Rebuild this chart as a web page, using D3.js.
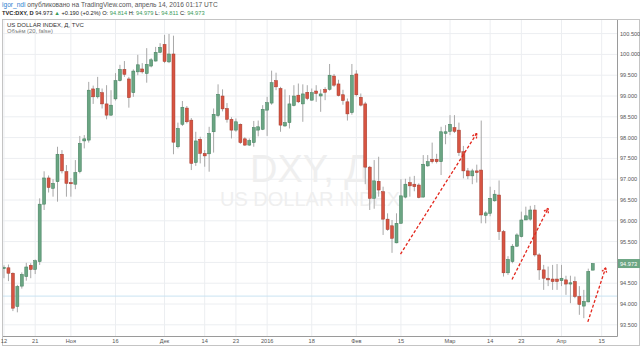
<!DOCTYPE html>
<html>
<head>
<meta charset="utf-8">
<script src="https://cdn.jsdelivr.net/npm/d3@7/dist/d3.min.js"></script>
<style>
  body { margin: 0; background: #fff; }
  svg { display: block; font-family: "Liberation Sans", Arial, sans-serif; }
</style>
</head>
<body>
<svg id="chart" width="640" height="347"></svg>
<script>
/* TVC:DXY daily candles, Oct 2015 – Apr 14 2016 */

const opens = [94.85,94.87,94.74,93.94,94.43,94.66,94.93,94.83,95.02,96.40,97.03,96.78,96.94,97.60,97.18,96.92,96.88,97.18,97.92,97.94,
  99.17,98.98,99.08,98.81,98.54,98.93,99.37,99.64,99.41,99.08,99.58,99.65,99.54,99.72,99.84,100.05,100.24,99.82,100.01,97.78,
  98.32,98.71,98.42,97.40,97.96,97.62,97.61,98.14,98.53,99.00,98.70,98.44,98.18,98.32,97.97,97.82,97.88,98.18,98.20,98.66,
  98.83,99.37,99.18,98.28,98.36,98.77,99.02,98.81,99.09,98.90,99.12,99.00,99.16,99.16,99.48,99.29,99.03,98.86,98.60,99.53,
  98.97,98.81,97.29,96.54,96.95,96.70,96.04,95.88,95.47,95.94,96.57,96.92,96.88,96.86,96.57,97.32,97.48,97.48,97.42,98.10,
  98.15,98.24,98.18,97.66,97.20,97.08,97.20,97.22,96.13,96.18,96.48,96.62,95.74,94.75,95.02,95.39,95.62,96.02,96.04,96.26,
  95.18,94.82,94.62,94.60,94.60,94.56,94.58,94.48,94.54,94.18,93.95,94.05,94.814];
const highs = [94.93,94.95,94.76,94.46,94.76,94.99,94.98,95.07,96.54,97.19,97.09,97.00,97.78,97.70,97.34,97.03,97.46,98.04,98.06,99.34,
  99.25,99.46,99.18,99.26,99.14,99.55,99.75,99.84,99.46,99.64,99.99,99.79,100.15,99.91,100.18,100.27,100.47,100.49,100.45,98.36,
  98.88,98.76,98.47,98.14,98.02,97.70,98.26,98.70,99.28,99.16,98.83,98.49,98.46,98.34,98.01,97.98,98.40,98.41,98.78,98.98,
  99.61,99.56,99.22,99.16,99.02,99.26,99.30,99.28,99.26,99.18,99.26,99.16,99.21,99.77,99.53,99.39,99.15,98.94,99.77,99.62,
  99.06,98.86,97.32,97.46,97.54,96.82,96.18,96.02,96.18,97.00,97.01,97.06,97.08,96.90,97.58,97.58,97.88,97.61,98.26,98.30,
  98.54,98.54,98.36,97.80,97.27,97.25,97.35,98.41,96.23,96.82,96.74,96.97,95.78,95.15,95.44,95.70,96.22,96.34,96.36,96.38,
  95.22,94.94,94.90,94.94,94.96,94.94,94.68,94.68,94.66,94.43,94.34,94.85,94.979];
const lows = [94.62,94.55,93.83,93.80,94.37,94.56,94.62,94.72,94.94,96.26,96.68,96.58,96.46,97.14,96.58,96.58,96.76,97.14,97.74,97.88,
  98.81,98.94,98.70,98.44,98.52,98.89,99.35,99.46,98.72,98.98,99.50,99.54,99.32,99.69,99.83,100.03,99.79,99.79,97.60,97.74,
  98.28,98.34,97.22,97.32,97.38,97.30,97.18,97.64,98.49,98.63,98.36,97.98,98.14,97.85,97.80,97.80,97.78,98.03,98.18,98.04,
  98.79,99.14,98.14,98.26,98.22,98.75,98.83,98.38,98.90,98.89,98.86,98.62,98.90,99.13,99.22,98.99,98.79,98.41,98.55,98.99,
  98.75,96.88,96.26,96.29,96.58,95.66,95.76,95.23,95.46,95.93,96.54,96.58,96.71,96.54,96.56,97.30,97.38,97.38,97.10,97.84,
  98.06,98.11,97.56,97.02,97.00,96.88,96.92,95.94,95.94,96.11,96.46,95.54,94.66,94.70,94.98,95.37,95.60,96.02,96.00,95.14,
  94.58,94.34,94.43,94.34,94.34,94.43,94.22,94.02,94.14,93.74,93.66,94.04,94.811];
const closes = [94.88,94.74,93.90,94.42,94.71,94.89,94.83,95.04,96.40,97.03,96.80,96.90,97.60,97.20,96.90,96.89,97.16,97.86,97.97,99.14,
  98.98,99.18,98.81,98.54,98.78,99.37,99.64,99.52,98.96,99.60,99.75,99.58,99.76,99.87,100.05,100.17,99.83,100.01,97.89,98.22,
  98.73,98.38,97.38,97.92,97.62,97.56,98.10,98.56,99.04,98.69,98.44,98.18,98.38,97.88,97.82,97.93,98.24,98.26,98.68,98.84,
  99.32,99.22,98.30,98.36,98.81,99.00,98.86,99.05,98.94,99.08,99.06,99.05,99.09,99.50,99.26,99.01,98.89,98.57,99.50,99.03,
  98.78,97.29,96.54,96.96,96.74,96.04,95.79,95.58,95.94,96.60,96.88,96.84,96.82,96.56,97.36,97.42,97.42,97.42,98.14,98.14,
  98.32,98.15,97.64,97.20,97.08,97.20,97.16,96.14,96.19,96.54,96.64,95.74,94.75,95.07,95.39,95.66,96.02,96.12,96.26,95.18,
  94.82,94.62,94.58,94.54,94.54,94.62,94.48,94.51,94.18,93.99,94.06,94.783,94.973];

const priceTicks = [93.5, 94, 94.5, 95, 95.5, 96, 96.5, 97, 97.5, 98, 98.5, 99, 99.5, 100, 100.5];
const timeTickBars = [0, 7, 15, 25, 36, 45, 52, 59, 69, 79, 89, 100, 109, 116, 125, 134];
const timeTickLabels = ["12", "21", "Ноя", "16", "Дек", "14", "23", "2016", "18", "Фев", "15", "Мар", "14", "23", "Апр", "15"];

// user drawings: dashed arrows (bar index, price) and a horizontal line
const arrowStart = [[88.9, 95.20], [113.9, 94.59], [130.9, 93.57]];
const arrowEnd = [[106.0, 98.10], [122.0, 96.30], [134.9, 94.87]];
const hLinePrice = [94.19];

const lastPrice = 94.973;

const UP = "#6ba583", UP_EDGE = "#3f7d5b";
const DOWN = "#d75442", DOWN_EDGE = "#a23a2c";

const svg = d3.select("#chart");
const L = 3, R = 617, T = 20, B = 336;

const x = d3.scaleLinear().domain([-0.22, 137.44]).range([L, R]);
const y = d3.scaleLinear().domain([93.231, 100.827]).range([B, T]);

svg.append("rect").attr("width", 640).attr("height", 347).attr("fill", "#fff");

svg.append("defs").append("clipPath").attr("id", "plot")
  .append("rect").attr("x", L).attr("y", T).attr("width", R - L).attr("height", B - T);

const plot = svg.append("g").attr("clip-path", "url(#plot)");

// grid
plot.selectAll(".hg").data(priceTicks).join("line")
  .attr("x1", L).attr("x2", R)
  .attr("y1", (d) => y(d)).attr("y2", (d) => y(d))
  .attr("stroke", "#eceef1").attr("stroke-width", 1);
plot.selectAll(".vg").data(timeTickBars).join("line")
  .attr("x1", (d) => x(d)).attr("x2", (d) => x(d))
  .attr("y1", T).attr("y2", B)
  .attr("stroke", "#eceef1").attr("stroke-width", 1);

// watermark
const cx = (L + R) / 2;
plot.append("text").attr("x", cx).attr("y", 182).attr("text-anchor", "middle")
  .attr("font-size", 38).attr("fill", "#efefef").text("DXY, Д");
plot.append("text").attr("x", cx).attr("y", 206).attr("text-anchor", "middle")
  .attr("font-size", 20).attr("fill", "#efefef").text("US DOLLAR INDEX");

// horizontal line
plot.selectAll(".hl").data(hLinePrice).join("line")
  .attr("x1", L).attr("x2", R)
  .attr("y1", (d) => y(d)).attr("y2", (d) => y(d))
  .attr("stroke", "#c9e3f2").attr("stroke-width", 1);

// candles
const bars = d3.range(opens.length);
plot.selectAll(".wick").data(bars).join("line")
  .attr("x1", (i) => x(i)).attr("x2", (i) => x(i))
  .attr("y1", (i) => y(highs[i])).attr("y2", (i) => y(lows[i]))
  .attr("stroke", "#a8a8a8").attr("stroke-width", 1);
plot.selectAll(".body").data(bars).join("rect")
  .attr("x", (i) => x(i) - 1.5)
  .attr("width", 3)
  .attr("y", (i) => y(Math.max(opens[i], closes[i])))
  .attr("height", (i) => Math.max(1, Math.abs(y(opens[i]) - y(closes[i]))))
  .attr("fill", (i) => (closes[i] >= opens[i] ? UP : DOWN))
  .attr("stroke", (i) => (closes[i] >= opens[i] ? UP_EDGE : DOWN_EDGE))
  .attr("stroke-width", 0.5);

// arrows
const RED = "#e3261c";
arrowStart.forEach((s, k) => {
  const e = arrowEnd[k];
  const x1 = x(s[0]), y1 = y(s[1]), x2 = x(e[0]), y2 = y(e[1]);
  plot.append("line")
    .attr("x1", x1).attr("y1", y1).attr("x2", x2).attr("y2", y2)
    .attr("stroke", RED).attr("stroke-width", 1.3).attr("stroke-dasharray", "3,2");
  const a = Math.atan2(y2 - y1, x2 - x1);
  [-0.5, 0.5].forEach((da) => {
    plot.append("line")
      .attr("x1", x2).attr("y1", y2)
      .attr("x2", x2 - 6 * Math.cos(a + da)).attr("y2", y2 - 6 * Math.sin(a + da))
      .attr("stroke", RED).attr("stroke-width", 1.3).attr("stroke-dasharray", "2,1");
  });
});

// frame
svg.append("rect").attr("x", L - 0.5).attr("y", T - 0.5).attr("width", 640 - L).attr("height", 346 - T)
  .attr("fill", "none").attr("stroke", "#c4c4c4");
svg.append("line").attr("x1", R + 0.5).attr("x2", R + 0.5).attr("y1", T).attr("y2", B + 0.5)
  .attr("stroke", "#9a9a9a");
svg.append("line").attr("x1", L).attr("x2", R + 0.5).attr("y1", B + 0.5).attr("y2", B + 0.5)
  .attr("stroke", "#9a9a9a");

// price axis
const fmt = d3.format(".3f");
svg.selectAll(".pl").data(priceTicks).join("text")
  .attr("x", R + 3).attr("y", (d) => y(d) + 2)
  .attr("font-size", 5.6).attr("fill", "#555").text((d) => fmt(d));

svg.append("rect").attr("x", R + 1).attr("y", y(lastPrice) - 4.5).attr("width", 22).attr("height", 9)
  .attr("fill", UP);
svg.append("text").attr("x", R + 3).attr("y", y(lastPrice) + 2)
  .attr("font-size", 5.6).attr("fill", "#fff").text(fmt(lastPrice));

// time axis
svg.selectAll(".tl").data(timeTickBars).join("text")
  .attr("x", (d) => x(d)).attr("y", 343).attr("text-anchor", "middle")
  .attr("font-size", 5.6).attr("fill", "#555")
  .text((d, i) => timeTickLabels[i]);

// header
const h1 = svg.append("text").attr("x", 2).attr("y", 7).attr("font-size", 6.6).attr("fill", "#555");
h1.append("tspan").attr("fill", "#2f7fcf").text("igor_ndi");
h1.append("tspan").text(" опубликовано на TradingView.com, апрель 14, 2016 01:17 UTC");

const GREEN = "#3a9b5a";
const h2 = svg.append("text").attr("x", 2).attr("y", 14.5).attr("font-size", 5.7).attr("fill", "#222");
h2.append("tspan").attr("font-weight", "bold").text("TVC:DXY, D ");
h2.append("tspan").text("94.973 ");
h2.append("tspan").attr("fill", GREEN).text("▲");
h2.append("tspan").text(" +0.190 (+0.2%) O: ");
h2.append("tspan").attr("fill", GREEN).text("94.814");
h2.append("tspan").text(" H: ");
h2.append("tspan").attr("fill", GREEN).text("94.979");
h2.append("tspan").text(" L: ");
h2.append("tspan").attr("fill", GREEN).text("94.811");
h2.append("tspan").text(" C: ");
h2.append("tspan").attr("fill", GREEN).text("94.973");

svg.append("text").attr("x", 7).attr("y", 26.5).attr("font-size", 6).attr("fill", "#333")
  .text("US DOLLAR INDEX, Д, TVC");
svg.append("text").attr("x", 7).attr("y", 33).attr("font-size", 5.8).attr("fill", "#777")
  .text("Объём (20, false)");
</script>
</body>
</html>
